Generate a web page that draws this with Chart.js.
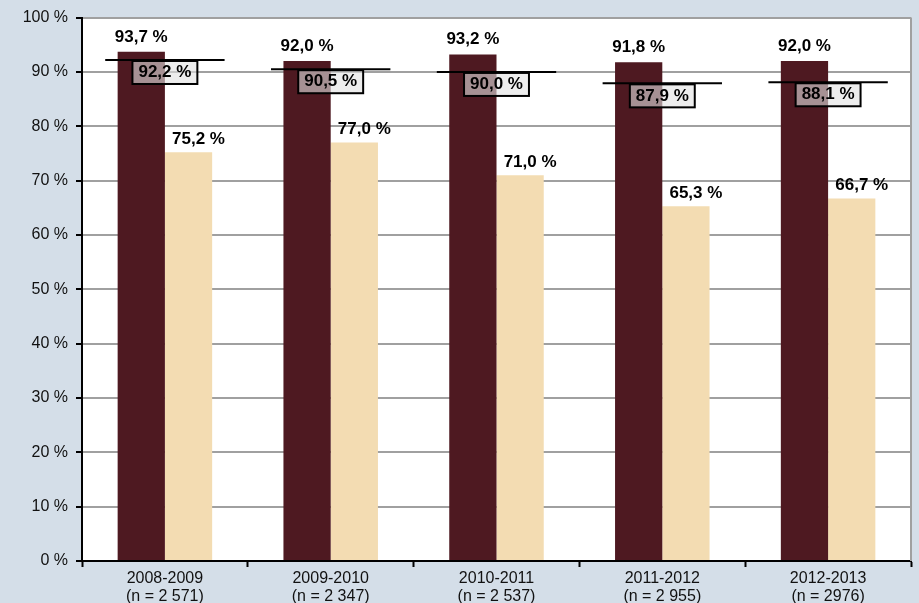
<!DOCTYPE html>
<html lang="fr">
<head>
  <meta charset="UTF-8">
  <title>Taux 2008-2013</title>
  <script src="https://cdn.jsdelivr.net/npm/chart.js"></script>
  <style>
    html, body {
      margin: 0;
      padding: 0;
      background: #d4dee8;
    }
    .chart-container {
      width: 919px;
      height: 603px;
    }
  </style>
</head>
<body>
  <div class="chart-container">
    <canvas id="rateChart"></canvas>
  </div>

  <script>
    // Data
    const categories = [
      ['2008-2009', '(n = 2 571)'],
      ['2009-2010', '(n = 2 347)'],
      ['2010-2011', '(n = 2 537)'],
      ['2011-2012', '(n = 2 955)'],
      ['2012-2013', '(n = 2976)']
    ];
    const darkValues = [93.7, 92.0, 93.2, 91.8, 92.0];
    const lightValues = [75.2, 77.0, 71.0, 65.3, 66.7];
    const refValues = [92.2, 90.5, 90.0, 87.9, 88.1];

    const FONT = 'Arial, "Liberation Sans", sans-serif';
    const fmt = v => v.toFixed(1).replace('.', ',') + ' %';

    // white plot area + outer background
    const backgroundPlugin = {
      id: 'bg',
      beforeDraw(chart) {
        const { ctx, chartArea: a } = chart;
        ctx.save();
        ctx.fillStyle = '#d4dee8';
        ctx.fillRect(0, 0, chart.width, chart.height);
        ctx.fillStyle = '#ffffff';
        ctx.fillRect(a.left, a.top, a.right - a.left, a.bottom - a.top);
        ctx.restore();
      },
      afterDraw(chart) {
        const { ctx, chartArea: a } = chart;
        ctx.save();
        ctx.strokeStyle = '#a0a0a0';
        ctx.lineWidth = 2;
        ctx.beginPath();
        ctx.moveTo(a.right, a.top);
        ctx.lineTo(a.right, a.bottom);
        ctx.stroke();
        ctx.restore();
      }
    };

    // label offsets per dataset (dark labels centred, light ones nudged right)
    const labelShift = [{ dx: 0, dy: -15 }, { dx: 10, dy: -13 }];

    // value labels, reference lines and boxed reference labels
    const labelPlugin = {
      id: 'labels',
      afterDatasetsDraw(chart) {
        const ctx = chart.ctx;
        const xScale = chart.scales.x;
        const yScale = chart.scales.y;
        ctx.save();
        ctx.font = 'bold 17px ' + FONT;
        ctx.textAlign = 'center';
        ctx.textBaseline = 'middle';
        ctx.fillStyle = '#000';
        chart.data.datasets.forEach((ds, i) => {
          const s = labelShift[i];
          chart.getDatasetMeta(i).data.forEach((bar, j) => {
            ctx.fillText(fmt(ds.data[j]), bar.x + s.dx, bar.y + s.dy);
          });
        });

        const catW = (chart.chartArea.right - chart.chartArea.left) / categories.length;
        refValues.forEach((v, j) => {
          const cx = xScale.getPixelForValue(j);
          const y = yScale.getPixelForValue(v);
          ctx.strokeStyle = '#000';
          ctx.lineWidth = 2;
          ctx.beginPath();
          ctx.moveTo(cx - catW * 0.36, y);
          ctx.lineTo(cx + catW * 0.36, y);
          ctx.stroke();

          const txt = fmt(v);
          const w = ctx.measureText(txt).width + 12;
          const h = 23;
          ctx.fillStyle = 'rgba(225, 225, 225, 0.6)';
          ctx.fillRect(cx - w / 2, y + 1, w, h);
          ctx.lineWidth = 2;
          ctx.strokeRect(cx - w / 2, y + 1, w, h);
          ctx.fillStyle = '#000';
          ctx.fillText(txt, cx, y + 1 + h / 2);
        });
        ctx.restore();
      }
    };

    const config = {
      type: 'bar',
      data: {
        labels: categories,
        datasets: [
          {
            data: darkValues,
            backgroundColor: '#4e1921',
            categoryPercentage: 0.57,
            barPercentage: 1.0
          },
          {
            data: lightValues,
            backgroundColor: '#f3dcb2',
            categoryPercentage: 0.57,
            barPercentage: 1.0
          }
        ]
      },
      options: {
        responsive: true,
        maintainAspectRatio: false,
        animation: false,
        layout: {
          padding: { top: 17, right: 8, left: 0, bottom: 0 }
        },
        scales: {
          x: {
            afterFit: s => { s.height = 42; },
            grid: {
              drawOnChartArea: false,
              drawTicks: true,
              tickLength: 6,
              tickColor: '#000',
              tickWidth: 2
            },
            border: { color: '#000', width: 2 },
            ticks: {
              color: '#111',
              padding: 3,
              font: { family: FONT, size: 16, lineHeight: 1.1 }
            }
          },
          y: {
            min: 0,
            max: 100,
            afterFit: s => { s.width = 82; },
            grid: {
              color: '#a0a0a0',
              lineWidth: 2,
              tickLength: 6,
              tickColor: '#000',
              tickWidth: 2
            },
            border: { color: '#000', width: 2 },
            ticks: {
              stepSize: 10,
              color: '#111',
              padding: 8,
              font: { family: FONT, size: 16 },
              callback: v => v + ' %'
            }
          }
        },
        plugins: {
          legend: { display: false },
          tooltip: { enabled: false }
        }
      },
      plugins: [backgroundPlugin, labelPlugin]
    };

    new Chart(document.getElementById('rateChart'), config);
  </script>
</body>
</html>
